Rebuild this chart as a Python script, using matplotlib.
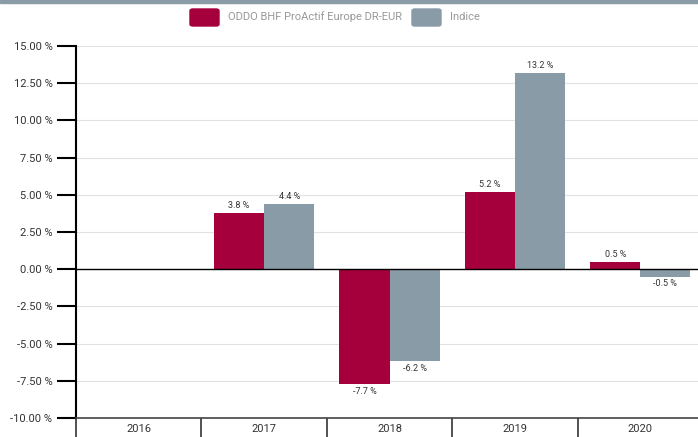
import matplotlib.pyplot as plt
from matplotlib.patches import Rectangle, FancyBboxPatch
import numpy as np

years = ['2016', '2017', '2018', '2019', '2020']
fund = [np.nan, 3.8, -7.7, 5.2, 0.5]
index = [np.nan, 4.4, -6.2, 13.2, -0.5]
yticks = [-10, -7.5, -5, -2.5, 0, 2.5, 5, 7.5, 10, 12.5, 15]
series = ['ODDO BHF ProActif Europe DR-EUR', 'Indice']

RED = '#a5003c'
GREY = '#8a9ba8'
TXT = '#333333'

plt.rcParams['font.family'] = ['Roboto', 'DejaVu Sans']
fs = 8

fig = plt.figure(figsize=(6.98, 4.37), dpi=100)
ax = fig.add_axes([76 / 698, 19 / 437, 627 / 698, 372 / 437])

# thin band at the very top
fig.patches.append(Rectangle((0, 1 - 3 / 437), 1, 3 / 437, transform=fig.transFigure,
                             color=GREY, zorder=0))

x = np.arange(len(years))
w = 0.4
ax.bar(x - w / 2, fund, w, color=RED, zorder=3)
ax.bar(x + w / 2, index, w, color=GREY, zorder=3)

for xs, vals in ((x - w / 2, fund), (x + w / 2, index)):
    for xi, v in zip(xs, vals):
        if np.isnan(v):
            continue
        off = 2 if v >= 0 else -2
        ax.annotate(f'{v:.1f} %', (xi, v), xytext=(0, off), textcoords='offset points',
                    ha='center', va='bottom' if v >= 0 else 'top', fontsize=6.5, color=TXT)

ax.set_xlim(-0.5, len(years) - 0.5)
ax.set_ylim(-10, 15)
ax.set_yticks(yticks)
ax.set_yticklabels([f'{t:.2f} %' for t in yticks], fontsize=fs, color=TXT)
ax.yaxis.grid(True, color='#e2e2e2', lw=0.8, zorder=0)
ax.axhline(0, color='black', lw=1, zorder=4)

ax.set_xticks(np.arange(len(years) + 1) - 0.5)
ax.set_xticklabels([])
ax.set_xticks(x, minor=True)
ax.set_xticklabels(years, minor=True, fontsize=fs, color=TXT)
ax.tick_params(axis='x', which='major', length=14, width=1.2, color='#333333', direction='out')
ax.tick_params(axis='x', which='minor', length=0, pad=4)
ax.tick_params(axis='y', length=14, width=1.5, color='black', pad=3)

for s in ('top', 'right'):
    ax.spines[s].set_visible(False)
ax.spines['left'].set_linewidth(1.5)
ax.spines['bottom'].set_color('#444444')
ax.spines['bottom'].set_linewidth(1.2)

# legend, laid out by hand in pixels
renderer = fig.canvas.get_renderer()
lx = 190
for c, lab in zip([RED, GREY], series):
    fig.patches.append(FancyBboxPatch((lx / 698, 1 - 26 / 437), 29 / 698, 17 / 437,
                                      boxstyle='round,pad=0,rounding_size=0.004',
                                      transform=fig.transFigure, color=c))
    t = fig.text((lx + 38) / 698, 1 - 17 / 437, lab, fontsize=fs, color='#999999', va='center')
    lx += 38 + t.get_window_extent(renderer).width + 10

fig.savefig('out.png', dpi=100)
